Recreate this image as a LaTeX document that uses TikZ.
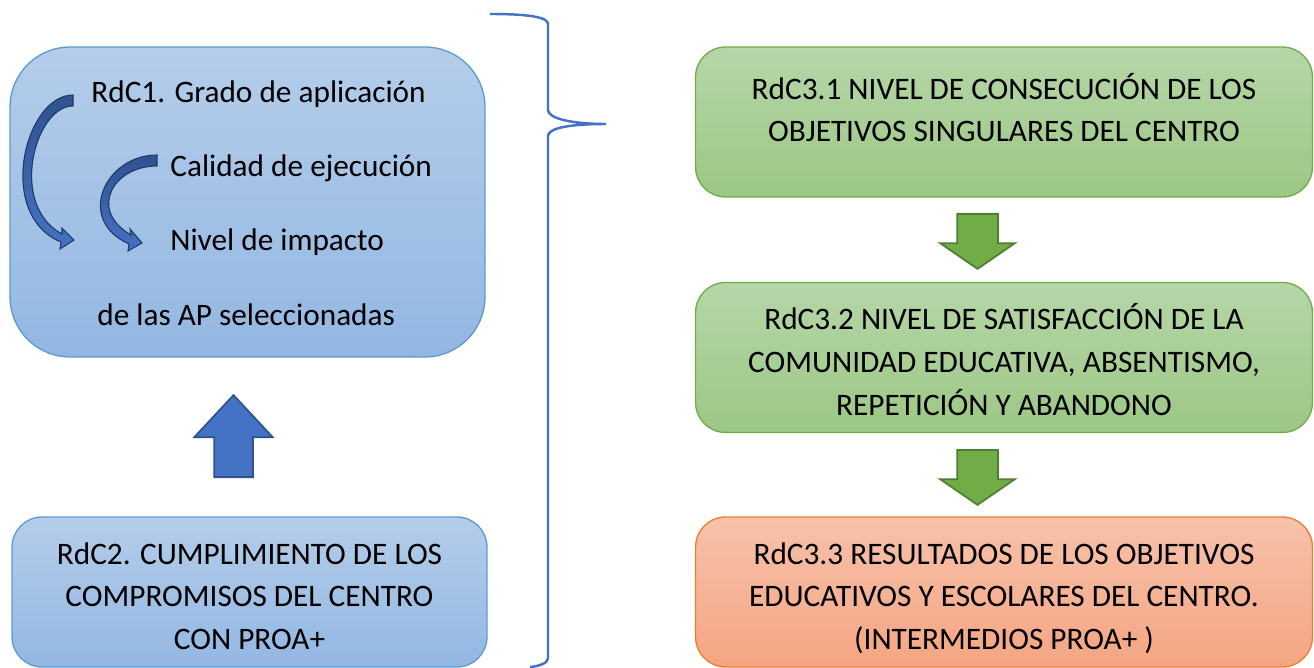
\documentclass[tikz,border=0pt]{standalone}
\usepackage{fontspec}
\setmainfont{Carlito}
\usetikzlibrary{positioning,shapes.arrows}

\definecolor{bluetop}{HTML}{B4CDEA}
\definecolor{bluebot}{HTML}{93B7E2}
\definecolor{blueline}{HTML}{5B9BD5}
\definecolor{greentop}{HTML}{B6D6A8}
\definecolor{greenbot}{HTML}{9CC785}
\definecolor{greenline}{HTML}{70AD47}
\definecolor{orangetop}{HTML}{F7C2AB}
\definecolor{orangebot}{HTML}{F4A582}
\definecolor{orangeline}{HTML}{ED7D31}
\definecolor{arrowblue}{HTML}{4472C4}
\definecolor{arrowdark}{HTML}{2F528F}
\definecolor{arrownavy}{HTML}{203864}
\definecolor{arrowgreendark}{HTML}{507E32}

\tikzset{
    boxtext/.style={font=\fontsize{17.8}{24.4}\selectfont, align=center, inner sep=0pt},
    threelines/.style={text height=70.8pt, text depth=5pt},
    twolines/.style={text height=27.7pt, text depth=5pt},
    bluebox/.style={draw=blueline, line width=0.75pt, top color=bluetop, bottom color=bluebot},
    greenbox/.style={draw=greenline, line width=0.75pt, top color=greentop, bottom color=greenbot,
        rounded corners=0.6cm, minimum width=12.34cm, minimum height=3cm, boxtext},
    orangebox/.style={draw=orangeline, line width=0.75pt, top color=orangetop, bottom color=orangebot,
        rounded corners=0.6cm, minimum width=12.34cm, minimum height=3cm, boxtext},
    curvearrow/.style={draw=arrownavy, line width=0.6pt, top color=arrowdark, bottom color=arrowblue},
    uparrow/.style={single arrow, draw=arrowdark, line width=1pt, fill=arrowblue, rotate=90,
        minimum height=1.64cm, inner xsep=0pt, inner ysep=0.37cm, single arrow head extend=0.4cm,
        single arrow tip angle=86},
    downarrow/.style={single arrow, draw=arrowgreendark, line width=1pt, fill=greenline, rotate=-90,
        minimum height=1.1cm, inner xsep=0pt, inner ysep=0.39cm, single arrow head extend=0.34cm,
        single arrow tip angle=111},
    brace/.style={draw=arrowblue, line width=1.4pt}
}

\begin{document}
\begin{tikzpicture}[x=0.02cm, y=-0.02cm]

        \useasboundingbox (0,0) rectangle (1314,668);

        % left column
        \node[bluebox, rounded corners=1.2cm, minimum width=9.5cm, minimum height=6.2cm] (rdc1) at (247.5,202) {};
        \node[boxtext, anchor=base west] (grado) at (91,103) {RdC1. Grado de aplicación};
        \node[boxtext, anchor=base west] (calidad) at (170,177) {Calidad de ejecución};
        \node[boxtext, anchor=base west] (impacto) at (170,251) {Nivel de impacto};
        \node[boxtext, anchor=base west] (aps) at (97,326) {de las AP seleccionadas};

        \node[bluebox, rounded corners=0.6cm, minimum width=9.5cm, minimum height=3cm, boxtext, threelines] (rdc2) at (249.5,592)
            {RdC2. CUMPLIMIENTO DE LOS\\COMPROMISOS DEL CENTRO\\CON PROA+};

        % curved arrows inside RdC1
        \path[curvearrow] (73,95) .. controls (25,95) and (-5,215) .. (61,242) -- (60,249) -- (74,240)
            -- (62,228) -- (62,234) .. controls (8,205) and (35,106) .. (73,106) -- cycle;
        \path[curvearrow] (157,155) .. controls (105,155) and (75,220) .. (129,244) -- (128,251) -- (142,243)
            -- (130,229) -- (131,235) .. controls (88,210) and (113,166) .. (157,166) -- cycle;

        \node[uparrow, anchor=tail] (up) at (233.5,478) {};

        % right column
        \node[greenbox, twolines] (rdc31) at (1004,122)
            {RdC3.1 NIVEL DE CONSECUCIÓN DE LOS\\OBJETIVOS SINGULARES DEL CENTRO};
        \node[greenbox, threelines] (rdc32) at (1004,357.5)
            {RdC3.2 NIVEL DE SATISFACCIÓN DE LA\\COMUNIDAD EDUCATIVA, ABSENTISMO,\\REPETICIÓN Y ABANDONO};
        \node[orangebox, threelines] (rdc33) at (1004,592)
            {RdC3.3 RESULTADOS DE LOS OBJETIVOS\\EDUCATIVOS Y ESCOLARES DEL CENTRO.\\(INTERMEDIOS PROA+ )};

        \node[downarrow, anchor=tail] (down1) at (977.5,213) {};
        \node[downarrow, anchor=tail] (down2) at (977.5,449) {};

        % brace
        \draw[brace] (490,14) .. controls (528,14) and (548,17) .. (548,24) -- (548,110)
            .. controls (548,118) and (570,124) .. (606,124) coordinate (bracetip)
            .. controls (570,124) and (548,128) .. (548,136) -- (548,658)
            .. controls (548,663) and (540,666) .. (530,667);

\end{tikzpicture}
\end{document}
